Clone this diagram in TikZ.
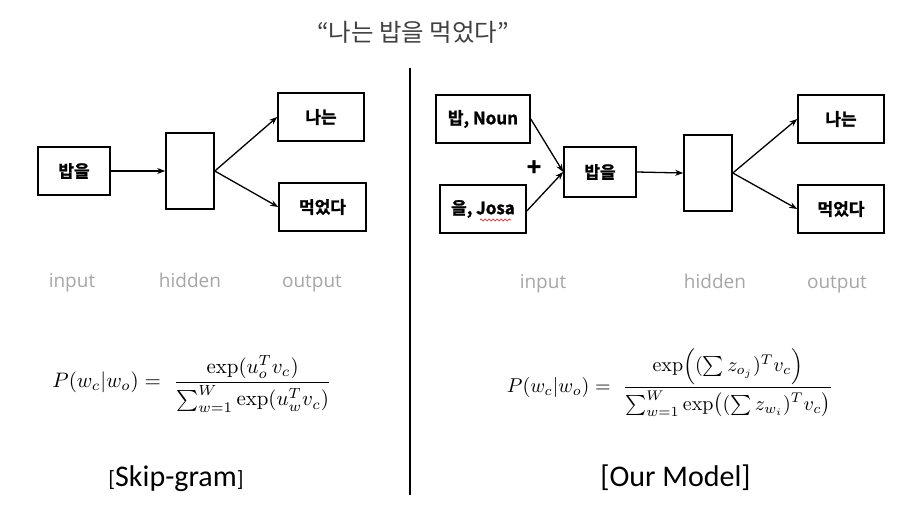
\documentclass[tikz,border=0pt]{standalone}
\usepackage{fontspec}
\usepackage{amsmath}
\usepackage{graphicx}
\usetikzlibrary{arrows.meta,decorations.pathmorphing}
\newfontfamily\krfont{Noto Sans CJK KR}
\newfontfamily\krbfont[FakeBold=1.5]{Noto Sans CJK KR Bold}
\newfontfamily\labfont{Open Sans}
\newfontfamily\capfont{Carlito}
\definecolor{labgray}{HTML}{A6A6A6}
\definecolor{titlegray}{HTML}{404040}
\begin{document}
\begin{tikzpicture}[x=1pt,y=-1pt,
  wbox/.style={draw,line width=1.6pt,minimum height=48pt,inner sep=0pt,font=\krbfont\fontsize{17}{20}\selectfont},
  conn/.style={-{Stealth[length=8pt,width=6pt]},line width=1.3pt},
  layerlab/.style={font=\labfont\fontsize{19}{22}\selectfont,text=labgray,anchor=base},
  caption/.style={font=\capfont\fontsize{30}{34}\selectfont}]
\useasboundingbox (0,0) rectangle (916,516);
% title
\node[font=\krfont\fontsize{24.5}{28}\selectfont,text=titlegray] (title) at (413,32) {“나는 밥을 먹었다”};
% divider
\coordinate (dtop) at (410,68);
\coordinate (dbot) at (410,495);
\draw[line width=1.5pt] (dtop) -- (dbot);
% left panel
\node[wbox,minimum width=72pt] (lin) at (74,171) {밥을};
\node[wbox,minimum width=48pt,minimum height=76pt] (lhid) at (190,171) {};
\node[wbox,minimum width=86pt] (lo1) at (321,117) {나는};
\node[wbox,minimum width=87pt] (lo2) at (322.5,207) {먹었다};
\draw[conn] (lin.east) -- (lhid.west);
\draw[conn] (lhid.east) -- (lo1.west);
\draw[conn] (lhid.east) -- (lo2.west);
\node[layerlab] (linl) at (72,287) {input};
\node[layerlab] (lhidl) at (190,287) {hidden};
\node[layerlab] (loutl) at (312,287) {output};
% right panel
\node[wbox,minimum width=94pt] (rn) at (483,119) {밥, Noun};
\node[wbox,minimum width=86pt] (rj) at (483,209) {을, Josa};
\node[wbox,minimum width=72pt,minimum height=50pt] (rin) at (600,172) {밥을};
\node[wbox,minimum width=48pt,minimum height=76pt] (rhid) at (708,173) {};
\node[wbox,minimum width=86pt] (ro1) at (841,119) {나는};
\node[wbox,minimum width=86pt] (ro2) at (841,209) {먹었다};
\node[font=\krbfont\fontsize{24}{26}\selectfont] (plus) at (534,168) {+};
\draw[conn] (rn.east) -- (rin.west);
\draw[conn] ([yshift=-2pt]rj.east) -- (rin.west);
\draw[conn] (rin.east) -- (rhid.west);
\draw[conn] (rhid.east) -- (ro1.west);
\draw[conn] (rhid.east) -- (ro2.west);
\coordinate (sq1) at (480,220);
\coordinate (sq2) at (511,220);
\draw[red,line width=0.6pt,decorate,decoration={snake,amplitude=1pt,segment length=4pt}] (sq1) -- (sq2);
\node[layerlab] (rinl) at (543,288) {input};
\node[layerlab] (rhidl) at (715,288) {hidden};
\node[layerlab] (routl) at (837,288) {output};
% formulas
\node (lf) at (192,384)
  {\resizebox{279pt}{!}{$\displaystyle P(w_c|w_o) =\ \frac{\exp(u_o^T v_c)}{\textstyle\sum_{w=1}^{W}\exp(u_w^T v_c)}$}};
\node (rf) at (670,383)
  {\resizebox{326pt}{!}{$\displaystyle P(w_c|w_o) =\ \frac{\exp\Bigl((\textstyle\sum z_{o_j})^T v_c\Bigr)}{\textstyle\sum_{w=1}^{W}\exp\bigl((\sum z_{w_i})^T v_c\bigr)}$}};
% captions
\node[caption] (lcap) at (176,479) {{\fontsize{22}{26}\selectfont[}Skip-gram{\fontsize{22}{26}\selectfont]}};
\node[caption] (rcap) at (675.5,478) {[Our Model]};
\end{tikzpicture}
\end{document}
